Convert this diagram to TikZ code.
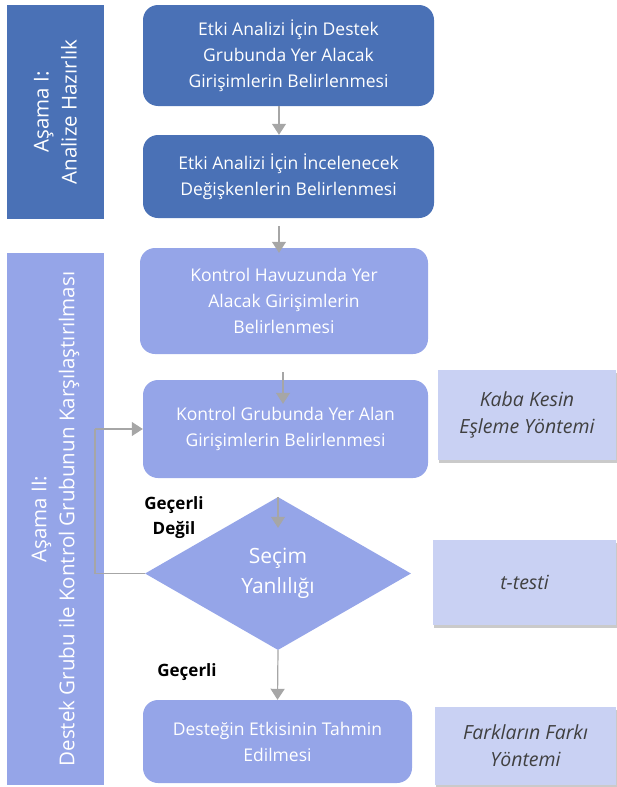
\documentclass[tikz,border=0pt]{standalone}
\usepackage{fontspec}
\setmainfont{Open Sans}
\usetikzlibrary{shapes.geometric,shadows,calc,arrows.meta}
\definecolor{darkblue}{HTML}{4A71B6}
\definecolor{lightblue}{HTML}{95A5E8}
\definecolor{paleblue}{HTML}{C9D1F3}
\definecolor{arrgray}{HTML}{A6A6A6}
\definecolor{txtgray}{HTML}{404040}
\tikzset{
  bar/.style={fill=#1, draw=none, inner sep=0pt},
  stepbox/.style={fill=#1, draw=none, rounded corners=15pt, text=white, align=center,
    font=\fontsize{17.5}{26}\selectfont, inner sep=0pt},
  sidebox/.style={fill=paleblue, draw=none, text=txtgray, align=center,
    font=\fontsize{19.5}{27}\selectfont\itshape, inner sep=0pt,
    drop shadow={shadow xshift=1pt, shadow yshift=-3pt, fill=black!35, opacity=0.6}},
  bartext/.style={text=white, align=center, rotate=90, font=\fontsize{20.5}{28}\selectfont},
  arr/.style={draw=arrgray, line width=1.2pt, -{Triangle[length=11pt,width=14pt]}},
  lbl/.style={font=\fontsize{17}{25}\selectfont\bfseries, align=center, text=black},
}
\begin{document}
\begin{tikzpicture}[x=1pt,y=-1pt]
\useasboundingbox (0,0) rectangle (616,787);
% bars
\node[bar=darkblue, minimum width=97pt, minimum height=214pt] (bar1) at (55.5,112) {};
\node[bartext] (bar1t) at (bar1.center) {Aşama I:\\Analize Hazırlık};
\node[bar=lightblue, minimum width=97pt, minimum height=532pt] (bar2) at (55.5,519) {};
\node[bartext] (bar2t) at (bar2.center) {Aşama II:\\Destek Grubu ile Kontrol Grubunun Karşılaştırılması};
% steps
\node[stepbox=darkblue, minimum width=291pt, minimum height=101pt] (b1) at (288.5,55.5)
  {Etki Analizi İçin Destek\\Grubunda Yer Alacak\\Girişimlerin Belirlenmesi};
\node[stepbox=darkblue, minimum width=291pt, minimum height=83pt] (b2) at (288.5,176.5)
  {Etki Analizi İçin İncelenecek\\Değişkenlerin Belirlenmesi};
\node[stepbox=lightblue, minimum width=288pt, minimum height=106pt] (b3) at (284,301)
  {Kontrol Havuzunda Yer\\Alacak Girişimlerin\\Belirlenmesi};
\node[stepbox=lightblue, minimum width=285pt, minimum height=98pt] (b4) at (285.5,429)
  {Kontrol Grubunda Yer Alan\\Girişimlerin Belirlenmesi};
\node[diamond, fill=lightblue, draw=none, inner sep=0pt, aspect=1.74,
  minimum width=266pt, minimum height=153pt, text=white, align=center,
  font=\fontsize{21}{30}\selectfont] (dia) at (278,573.5) {Seçim\\Yanlılığı};
\node[stepbox=lightblue, minimum width=269pt, minimum height=83pt] (b5) at (277.5,741.5)
  {Desteğin Etkisinin Tahmin\\Edilmesi};
% side boxes
\node[sidebox, minimum width=178pt, minimum height=90pt] (s1) at (527,415)
  {Kaba Kesin\\Eşleme Yöntemi};
\node[sidebox, minimum width=183pt, minimum height=85pt] (s2) at (524.5,582.5) {t-testi};
\node[sidebox, minimum width=181pt, minimum height=78pt] (s3) at (525.5,746)
  {Farkların Farkı\\Yöntemi};
% helper coordinates
\coordinate (c1) at (279,0);
\coordinate (c2) at (283,0);
\coordinate (lp) at (95,0);
% arrows
\draw[arr] (b1.south -| c1) -- (b2.north -| c1);
\draw[arr] ([yshift=-8pt]b2.south -| c1) -- ([yshift=-5pt]b3.north -| c1);
\draw[arr] ([yshift=-18pt]b3.south -| c2) -- ([yshift=-24pt]b4.north -| c2);
\draw[arr] (dia.north) -- ([yshift=-31pt]dia.north);
\draw[draw=arrgray, line width=1.2pt] (dia.west) -- (dia.west -| lp) -- (b4.west -| lp);
\draw[arr] (b4.west -| lp) -- (b4.west);
\draw[arr] (dia.south) -- (b5.north);
% labels
\node[lbl] (l1) at (174,518) {Geçerli\\Değil};
\node[lbl] (l2) at (187,672) {Geçerli};
\end{tikzpicture}
\end{document}
